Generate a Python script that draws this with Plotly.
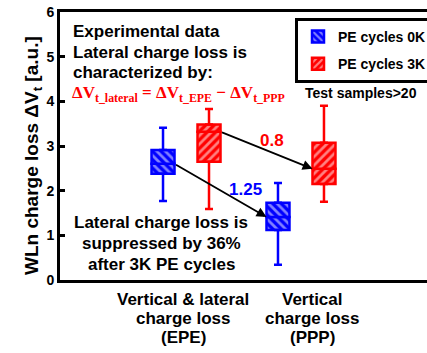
import plotly.graph_objects as go

# ---------------- data ----------------
categories = ["EPE", "PPP"]
tick_labels = [["Vertical & lateral", "charge loss", "(EPE)"], ["Vertical", "charge loss", "(PPP)"]]
series_names = ["PE cycles 0K", "PE cycles 3K"]

lower_0k = [1.77, 0.34]
q1_0k = [2.38, 1.12]
median_0k = [2.60, 1.41]
q3_0k = [2.91, 1.73]
upper_0k = [3.41, 2.17]

lower_3k = [1.59, 1.75]
q1_3k = [2.65, 2.15]
median_3k = [3.32, 2.49]
q3_3k = [3.48, 3.07]
upper_3k = [3.83, 3.90]

diff_labels = ["1.25", "0.8"]
y_ticks = [0, 1, 2, 3, 4, 5, 6]

note_top = ["Experimental data", "Lateral charge loss is", "characterized by:"]
note_bottom = ["Lateral charge loss is", "suppressed by 36%", "after 3K PE cycles"]

# ---------------- style / layout constants ----------------
W, H = 427, 353
PL, PR, PT, PB = 60, 427, 12, 280  # plot area in px
FONT = "Arial, 'Liberation Sans', sans-serif"
colors = ["#0000FF", "#FF0000"]
patterns = ["\\", "/"]
offsets = [-0.2, 0.2]
box_w = 0.2
label_shift = [-3, 12]  # px shift of category labels
cat_line_y = [299, 318, 337]
top_line_y = [31, 52, 72]
bottom_line_y = [222, 243, 264]


def px(xp):
    return (xp - PL) / (PR - PL)


def py(yp):
    return (PB - yp) / (PB - PT)


series = [
    (lower_0k, q1_0k, median_0k, q3_0k, upper_0k),
    (lower_3k, q1_3k, median_3k, q3_3k, upper_3k),
]

fig = go.Figure()
for s, (lo, q1, med, q3, up) in enumerate(series):
    pos = [i + offsets[s] for i in range(len(categories))]
    marker = dict(
        color=colors[s],
        line=dict(color=colors[s], width=2.5),
        pattern=dict(shape=patterns[s], fgcolor="white", bgcolor=colors[s], size=6, solidity=0.45),
    )
    # whiskers
    fig.add_trace(go.Scatter(
        x=pos, y=q3, mode="markers", marker=dict(size=1, opacity=0), showlegend=False, hoverinfo="skip",
        error_y=dict(type="data", symmetric=False, array=[u - q for u, q in zip(up, q3)],
                     arrayminus=[0] * len(pos), color=colors[s], thickness=2.5, width=4)))
    fig.add_trace(go.Scatter(
        x=pos, y=q1, mode="markers", marker=dict(size=1, opacity=0), showlegend=False, hoverinfo="skip",
        error_y=dict(type="data", symmetric=False, array=[0] * len(pos),
                     arrayminus=[q - l for q, l in zip(q1, lo)], color=colors[s], thickness=2.5, width=4)))
    # box lower half (q1 -> median) and upper half (median -> q3)
    fig.add_trace(go.Bar(
        x=pos, base=q1, y=[m - q for m, q in zip(med, q1)], width=box_w, marker=marker,
        name=series_names[s], legendgroup=series_names[s], showlegend=True))
    fig.add_trace(go.Bar(
        x=pos, base=med, y=[q - m for q, m in zip(q3, med)], width=box_w, marker=marker,
        name=series_names[s], legendgroup=series_names[s], showlegend=False))

    # arrow between medians
    fig.add_annotation(
        x=1 + offsets[s] - box_w / 2, y=med[1], ax=0 + offsets[s] + box_w / 2, ay=med[0],
        xref="x", yref="y", axref="x", ayref="y", text="", showarrow=True,
        arrowhead=2, arrowsize=1.1, arrowwidth=1.8, arrowcolor="black", standoff=0, startstandoff=0)

bold = dict(family=FONT, weight="bold", color="black")

# category labels
for i, lines in enumerate(tick_labels):
    for ln, yy in zip(lines, cat_line_y):
        fig.add_annotation(x=i, y=py(yy), xref="x", yref="paper", xanchor="center", yanchor="middle",
                           xshift=label_shift[i], showarrow=False, text=ln,
                           font=dict(size=17, **bold))

for ln, yy in zip(note_top, top_line_y):
    fig.add_annotation(x=px(71), y=py(yy), xref="paper", yref="paper", xanchor="left", yanchor="middle",
                       showarrow=False, text=ln, font=dict(size=17, **bold))
for ln, yy in zip(note_bottom, bottom_line_y):
    fig.add_annotation(x=px(161), y=py(yy), xref="paper", yref="paper", xanchor="center", yanchor="middle",
                       showarrow=False, text=ln, font=dict(size=17, **bold))

fig.add_annotation(x=px(70), y=py(94), xref="paper", yref="paper", xanchor="left", yanchor="middle",
                   showarrow=False,
                   text="ΔV<sub>t_lateral</sub> = ΔV<sub>t_EPE</sub> − ΔV<sub>t_PPP</sub>",
                   font=dict(size=17, family="'Liberation Serif', 'Times New Roman', serif",
                             weight="bold", color="#FF0000"))
fig.add_annotation(x=px(361), y=py(93), xref="paper", yref="paper", xanchor="center", yanchor="middle",
                   showarrow=False, text="Test samples>20", font=dict(size=14, **bold))
fig.add_annotation(x=px(245), y=py(189), xref="paper", yref="paper", showarrow=False,
                   text=diff_labels[0], font=dict(size=17, family=FONT, weight="bold", color=colors[0]))
fig.add_annotation(x=px(272), y=py(140), xref="paper", yref="paper", showarrow=False,
                   text=diff_labels[1], font=dict(size=17, family=FONT, weight="bold", color=colors[1]))
fig.add_annotation(x=px(19), y=py(156), xref="paper", yref="paper", showarrow=False, textangle=-90,
                   text="WLn charge loss ΔV<sub>t</sub> [a.u.]", font=dict(size=19, **bold))

fig.update_layout(
    width=W, height=H,
    margin=dict(l=PL, r=W - PR, t=PT, b=H - PB, autoexpand=False),
    paper_bgcolor="white", plot_bgcolor="white",
    barmode="overlay",
    showlegend=True,
    legend=dict(x=px(295), y=py(18), xanchor="left", yanchor="top",
                bordercolor="black", borderwidth=3, bgcolor="white",
                font=dict(size=14, **bold), traceorder="grouped", tracegroupgap=6,
                itemwidth=30),
    xaxis=dict(range=[-1.096, 2.096], showticklabels=False, automargin=False,
               showline=True, mirror=True, linewidth=3, linecolor="black", ticks="",
               showgrid=False, zeroline=False),
    yaxis=dict(range=[0, 6], tickvals=y_ticks, showline=True, linewidth=3, linecolor="black",
               automargin=False, ticks="inside", ticklen=5, tickwidth=2.5, tickcolor="black",
               showgrid=False, zeroline=False, tickfont=dict(size=14, **bold)),
)

fig.write_html("out.html")
